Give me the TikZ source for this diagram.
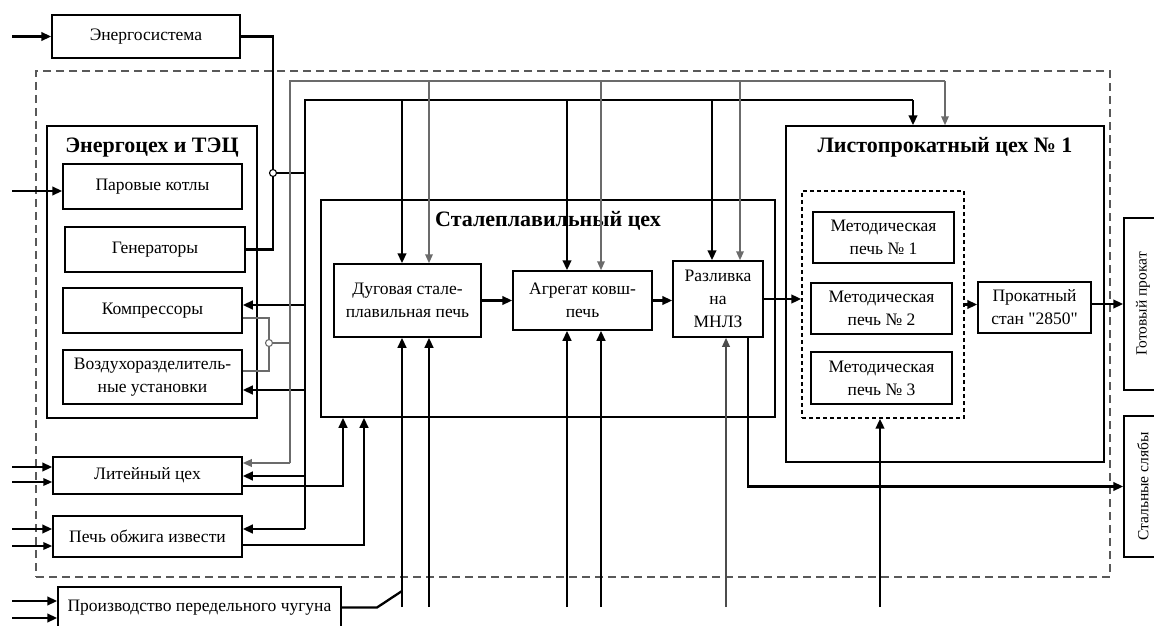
\documentclass[tikz,border=0pt]{standalone}
\usepackage{fontspec}
\setmainfont{Liberation Serif}[Ligatures=TeXOff]
\usetikzlibrary{arrows.meta,positioning,calc}

\tikzset{
    box/.style={draw, line width=1.5pt, align=center, inner sep=2pt, font=\fontsize{17.5}{23}\selectfont},
    shoptitle/.style={font=\fontsize{22}{25}\selectfont\bfseries},
    sidetext/.style={rotate=90, font=\fontsize{15.5}{18}\selectfont},
    flow/.style={line width=2.7pt, -{Triangle[length=10pt,width=8.5pt]}},
    thinflow/.style={line width=1.9pt, -{Triangle[length=9pt,width=7.5pt]}},
    busline/.style={line width=2.7pt},
    grayline/.style={draw=black!58, line width=1.8pt},
    grayflow/.style={grayline, -{Triangle[length=9pt,width=7.5pt]}, fill=black!58},
    hop/.style={circle, draw, fill=white, inner sep=0pt, minimum size=7pt, line width=1.1pt},
}

\begin{document}
\begin{tikzpicture}[x=1pt,y=-1pt]
    \useasboundingbox (0,0) rectangle (1154,626);

    % plant boundary
    \node (zavod) [draw=black!65, line width=1.5pt, dash pattern=on 8pt off 5pt, minimum width=1074, minimum height=506] at (573,324) {};

    % power shop
    \node (es) [box, minimum width=188, minimum height=43] at (146,36.5) {Энергосистема};
    \node (etec) [box, minimum width=210, minimum height=292] at (152,272) {};
    \node (etectitle) [shoptitle] at (152,148) {Энергоцех и ТЭЦ};
    \node (kotly) [box, minimum width=179, minimum height=45] at (152.5,186.5) {Паровые котлы};
    \node (gen) [box, minimum width=180, minimum height=45] at (155,249.5) {Генераторы};
    \node (komp) [box, minimum width=179, minimum height=45] at (152.5,310.5) {Компрессоры};
    \node (vozd) [box, minimum width=179, minimum height=54] at (152.5,377) {Воздухоразделитель-\\ные установки};
    \node (lit) [box, minimum width=189, minimum height=37] at (147.5,475.5) {Литейный цех};
    \node (izv) [box, minimum width=189, minimum height=41] at (147.5,536.5) {Печь обжига извести};
    \node (chug) [box, minimum width=283, minimum height=41] at (199.5,607.5) {Производство передельного чугуна};

    % steel shop
    \node (stal) [box, minimum width=454, minimum height=217] at (548,308.5) {};
    \node (staltitle) [shoptitle] at (548,221) {Сталеплавильный цех};
    \node (dsp) [box, minimum width=147, minimum height=73] at (407.5,300.5) {Дуговая стале-\\плавильная печь};
    \node (akp) [box, minimum width=139, minimum height=59] at (582.5,300.5) {Агрегат ковш-\\печь};
    \node (mnlz) [box, minimum width=90, minimum height=76] at (718,299) {Разливка\\на\\МНЛЗ};

    % rolling shop
    \node (lpc) [box, minimum width=318, minimum height=336] at (945,294) {};
    \node (lpctitle) [shoptitle] at (945,147) {Листопрокатный цех № 1};
    \node (metod) [draw, line width=1.4pt, dash pattern=on 4pt off 3pt, minimum width=162, minimum height=227] at (883,304.5) {};
    \node (mp1) [box, minimum width=141, minimum height=51] at (883.5,237.5) {Методическая\\печь № 1};
    \node (mp2) [box, minimum width=141, minimum height=51] at (881.5,308.5) {Методическая\\печь № 2};
    \node (mp3) [box, minimum width=141, minimum height=52] at (881.5,378) {Методическая\\печь № 3};
    \node (stan) [box, minimum width=113, minimum height=51] at (1034.5,307.5) {Прокатный\\стан "2850"};

    % products
    \node (gp) [box, minimum width=38, minimum height=172] at (1143,304) {};
    \node (gptext) [sidetext] at (gp) {Готовый прокат};
    \node (sl) [box, minimum width=38, minimum height=141] at (1143,486.5) {};
    \node (sltext) [sidetext] at (sl) {Стальные слябы};

    % outside inputs
    \coordinate (esin) at (12,36.5);
    \coordinate (kotlyin) at (12,191);
    \coordinate (litin1) at (12,467);
    \coordinate (litin2) at (12,482);
    \coordinate (izvin1) at (12,529);
    \coordinate (izvin2) at (12,546);
    \coordinate (chugin1) at (12,601);
    \coordinate (chugin2) at (12,618);
    \draw[flow] (esin) -- (es.west);
    \draw[flow] (kotlyin) -- (kotlyin -| kotly.west);
    \draw[flow] (litin1) -- (litin1 -| lit.west);
    \draw[thinflow] (litin2) -- (litin2 -| lit.west);
    \draw[flow] (izvin1) -- (izvin1 -| izv.west);
    \draw[thinflow] (izvin2) -- (izvin2 -| izv.west);
    \draw[flow] (chugin1) -- (chugin1 -| chug.west);
    \draw[flow] (chugin2) -- (chugin2 -| chug.west);

    % electric power line
    \coordinate (esbend) at (273,36.5);
    \node (eshop) [hop] at (273,173) {};
    \draw[line width=2.3pt] (es.east) -- (esbend) -- (eshop);
    \draw[line width=2.3pt] (eshop) -- (esbend |- gen.east) -- (gen.east);

    % black bus
    \coordinate (btop) at (305,100);
    \coordinate (bbot) at (305,529);
    \coordinate (bkomp) at (305,305);
    \coordinate (bvozd) at (305,390);
    \coordinate (blit) at (305,476);
    \coordinate (bdsp) at (402,100);
    \coordinate (bakp) at (567,100);
    \coordinate (bmnlz) at (712,100);
    \coordinate (blpc) at (913,100);
    \draw[busline] (bbot) -- (btop) -- (blpc);
    \draw[line width=2pt] (eshop) -- (eshop -| btop);
    \draw[flow] (blpc) -- (blpc |- lpc.north);
    \draw[flow] (bdsp) -- (bdsp |- dsp.north);
    \draw[flow] (bakp) -- (bakp |- akp.north);
    \draw[flow] (bmnlz) -- (bmnlz |- mnlz.north);
    \draw[flow] (bkomp) -- (bkomp -| komp.east);
    \draw[flow] (bvozd) -- (bvozd -| vozd.east);
    \draw[flow] (blit) -- (blit -| lit.east);
    \draw[flow] (bbot) -- (bbot -| izv.east);

    % gray bus
    \coordinate (gtop) at (290,81);
    \coordinate (gbot) at (290,463);
    \coordinate (gdsp) at (429,81);
    \coordinate (gakp) at (601,81);
    \coordinate (gmnlz) at (740,81);
    \coordinate (glpc) at (945,81);
    \draw[grayline] (gbot) -- (gtop) -- (glpc);
    \draw[grayflow] (glpc) -- (glpc |- lpc.north);
    \draw[grayflow] (gdsp) -- (gdsp |- dsp.north);
    \draw[grayflow] (gakp) -- (gakp |- akp.north);
    \draw[grayflow] (gmnlz) -- (gmnlz |- mnlz.north);
    \draw[grayflow] (gbot) -- (gbot -| lit.east);

    % compressed air and oxygen
    \coordinate (kout) at (269,318);
    \coordinate (vout) at (269,371);
    \node (kvhop) [hop, draw=black!58] at (269,343) {};
    \draw[grayline, line width=1.4pt] (kout -| komp.east) -- (kout) -- (kvhop);
    \draw[grayline, line width=1.4pt] (kvhop) -- (vout) -- (vout -| vozd.east);
    \draw[grayline, line width=1.4pt] (kvhop) -- (kvhop -| gtop);

    % supplies to the steel shop
    \coordinate (litout) at (343,486);
    \coordinate (izvout) at (364,545);
    \draw[flow] (litout -| lit.east) -- (litout) -- (litout |- stal.south);
    \draw[flow] (izvout -| izv.east) -- (izvout) -- (izvout |- stal.south);

    % inputs from below
    \coordinate (dspin1) at (402,607);
    \coordinate (dspin2) at (429,607);
    \coordinate (akpin1) at (567,607);
    \coordinate (akpin2) at (601,607);
    \coordinate (mnlzin) at (726,607);
    \coordinate (metodin) at (880,607);
    \draw[flow] (dspin1) -- (dspin1 |- dsp.south);
    \draw[flow] (dspin2) -- (dspin2 |- dsp.south);
    \draw[flow] (akpin1) -- (akpin1 |- akp.south);
    \draw[flow] (akpin2) -- (akpin2 |- akp.south);
    \draw[grayflow, draw=black!70, fill=black!70, line width=2pt] (mnlzin) -- (mnlzin |- mnlz.south);
    \draw[flow] (metodin) -- (metodin |- metod.south);

    % pig iron
    \coordinate (chugbend) at (377,607.5);
    \coordinate (chugjoin) at (402,591);
    \draw[line width=2.3pt] (chug.east) -- (chugbend) -- (chugjoin);

    % main flow
    \draw[flow] (dsp.east) -- (akp.west);
    \draw[flow] (akp.east) -- (akp.east -| mnlz.west);
    \draw[flow] (mnlz.east) -- (mnlz.east -| metod.west);
    \draw[flow] (metod.east) -- (metod.east -| stan.west);
    \draw[flow] (gp.west -| stan.east) -- (gp.west);

    % slabs
    \coordinate (slbend) at (748,486.5);
    \draw[flow] (slbend |- mnlz.south) -- (slbend) -- (sl.west);
\end{tikzpicture}
\end{document}
